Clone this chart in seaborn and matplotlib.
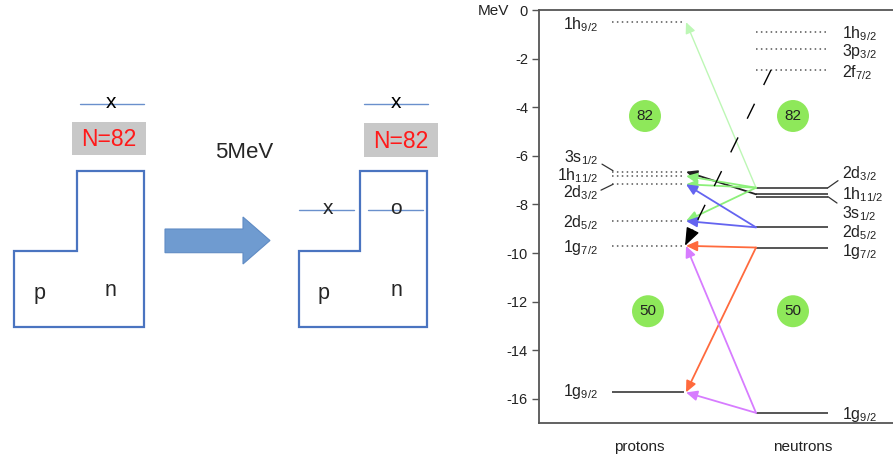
import numpy as np
import pandas as pd
import matplotlib
matplotlib.use("Agg")
import matplotlib.pyplot as plt
from matplotlib.patches import Polygon, Rectangle
import seaborn as sns

# ---------------- data ----------------
proton_levels = ["1h_{9/2}", "3s_{1/2}", "1h_{11/2}", "2d_{3/2}", "2d_{5/2}", "1g_{7/2}", "1g_{9/2}"]
proton_energy = [-0.50, -6.65, -6.83, -7.17, -8.68, -9.70, -15.73]
proton_occupied = [False, False, False, False, False, False, True]

neutron_levels = ["1h_{9/2}", "3p_{3/2}", "2f_{7/2}", "2d_{3/2}", "1h_{11/2}", "3s_{1/2}",
                  "2d_{5/2}", "1g_{7/2}", "1g_{9/2}"]
neutron_energy = [-0.90, -1.62, -2.47, -7.31, -7.58, -7.68, -8.94, -9.77, -16.57]
neutron_occupied = [False, False, False, True, True, True, True, True, True]

magic_labels = ["82", "82", "50", "50"]
magic_energy = [-4.36, -4.36, -12.39, -12.39]

# transitions: neutron level -> proton level
trans_from = ["2d_{3/2}", "1h_{11/2}", "2d_{3/2}", "2d_{3/2}", "2d_{3/2}", "2d_{5/2}", "2d_{5/2}",
              "1g_{7/2}", "1g_{7/2}", "1g_{9/2}", "1g_{9/2}"]
trans_to = ["1h_{9/2}", "3s_{1/2}", "1h_{11/2}", "2d_{3/2}", "2d_{5/2}", "2d_{3/2}", "2d_{5/2}",
            "1g_{7/2}", "1g_{9/2}", "1g_{7/2}", "1g_{9/2}"]
trans_color = ["#bdf7b5", "#222222", "#8cf07a", "#8cf07a", "#8cf07a", "#6464f0", "#6464f0",
               "#ff6a3d", "#ff6a3d", "#d77cff", "#d77cff"]
dashed_from = "2f_{7/2}"
dashed_to = "1g_{7/2}"

yticks = [0, -2, -4, -6, -8, -10, -12, -14, -16]
column_names = ["protons", "neutrons"]

# ---------------- layout ----------------
W, H = 893, 458
P_X0, P_X1 = 612, 684      # proton level segment (pixel-like x units)
N_X0, N_X1 = 756, 828      # neutron level segment
proton_label_dy = [-0.12, 0.56, 0.02, -0.36, -0.05, -0.05, 0.05]
neutron_label_dy = [-0.07, -0.09, -0.10, 0.56, 0.0, -0.69, -0.20, -0.15, -0.05]
magic_x = [645, 793, 648, 793]

sns.set_theme(style="white", rc={"axes.unicode_minus": False})
plt.rcParams["font.family"] = ["Liberation Sans", "DejaVu Sans"]
plt.rcParams["mathtext.fontset"] = "custom"
plt.rcParams["mathtext.rm"] = "Liberation Sans"
plt.rcParams["mathtext.it"] = "Liberation Sans"
plt.rcParams["mathtext.default"] = "rm"

fig = plt.figure(figsize=(W / 100, H / 100), dpi=100)
fig.patch.set_facecolor("white")

# ---------------- left schematic ----------------
a0 = fig.add_axes([0, 0, 1, 1])
a0.set_xlim(0, W)
a0.set_ylim(H, 0)
a0.axis("off")

blue = "#4a74c0"
thin = "#6a90cc"
for xs in ([14, 77, 144], [299, 360, 427]):
    x0, xm, x1 = xs
    a0.add_patch(Polygon([(x0, 250.5), (xm, 250.5), (xm, 171), (x1, 171), (x1, 326.7), (x0, 326.7)],
                         closed=True, fill=False, edgecolor=blue, lw=1.6, joinstyle="miter"))

# top lines with x
for (xa, xb, xt) in [(80, 144, 111), (364, 428, 396)]:
    a0.plot([xa, xb], [103.5, 103.5], color=thin, lw=1.0)
    a0.text(xt, 102, "x", fontsize=15, ha="center", va="center", color="black")
# gray N=82 boxes
for (xa, xb, yt, yb, xt) in [(72, 146, 121.7, 155, 109), (364, 438, 122.7, 157.3, 401)]:
    a0.add_patch(Rectangle((xa, yt), xb - xa, yb - yt, facecolor="#c8c8c8", edgecolor="none"))
    a0.text(xt, (yt + yb) / 2 + 1, "N=82", fontsize=16.5, color="#ff1a1a", ha="center", va="center")
# lines in second diagram
a0.plot([299, 354], [210, 210], color=thin, lw=1.0)
a0.text(328, 208, "x", fontsize=15, ha="center", va="center")
a0.plot([368, 423], [210, 210], color=thin, lw=1.0)
a0.text(396, 208, "o", fontsize=15, ha="center", va="center")
for xt in (40, 324):
    a0.text(xt, 293, "p", fontsize=15.5, ha="center", va="center")
for xt in (111, 396):
    a0.text(xt, 291, "n", fontsize=15.5, ha="center", va="center")
a0.text(244, 153, "5MeV", fontsize=16, ha="center", va="center")
a0.add_patch(Polygon([(165, 229), (243, 229), (243, 217), (270, 240.5), (243, 264), (243, 252.7), (165, 252.7)],
                     closed=True, facecolor="#6f9bd0", edgecolor="#5f8bc4", lw=0.8))

# ---------------- right level scheme ----------------
ax = fig.add_axes([539 / W, 1 - 423.3 / H, (905 - 539) / W, (423.3 - 10) / H])
ax.patch.set_alpha(0)

# magic-number circles (drawn with seaborn)
mdf = pd.DataFrame({"x": magic_x, "E": magic_energy, "label": magic_labels})
sns.scatterplot(data=mdf, x="x", y="E", s=530, color="#8ee85a", edgecolor="none", ax=ax, legend=False, zorder=3)
for _, r in mdf.iterrows():
    ax.text(r["x"], r["E"], r["label"], ha="center", va="center", fontsize=11, color="#222222", zorder=4)

ax.set_xlim(539, 905)
ax.set_ylim(-17, 0)
ax.set_xlabel("")
ax.set_ylabel("")
for s in ["top", "bottom", "left"]:
    ax.spines[s].set_color("#555555")
    ax.spines[s].set_linewidth(1.3)
ax.spines["right"].set_visible(False)
ax.set_yticks(yticks)
ax.set_yticklabels([str(v) for v in yticks], fontsize=10.5, color="#222222")
ax.tick_params(axis="y", direction="out", length=5, width=1, color="#555555", pad=3, left=True)
ax.set_xticks([639, 803])
ax.set_xticklabels(column_names, fontsize=11, color="#222222")
ax.tick_params(axis="x", length=0, pad=12)
fig.text(509 / W, 1 - 11 / H, "MeV", ha="right", va="center", fontsize=11, color="#222222")

dot_dash = (0, (1.0, 2.2))
pE = dict(zip(proton_levels, proton_energy))
nE = dict(zip(neutron_levels, neutron_energy))

for name, e, occ, dy in zip(proton_levels, proton_energy, proton_occupied, proton_label_dy):
    if occ:
        ax.plot([P_X0, P_X1], [e, e], color="#555555", lw=1.4, solid_capstyle="butt")
    else:
        ax.plot([P_X0, P_X1], [e, e], color="#555555", lw=1.1, linestyle=dot_dash)
    ax.text(598, e + dy, "$" + name + "$", ha="right", va="center", fontsize=11.5, color="#222222")
for name, e, occ, dy in zip(neutron_levels, neutron_energy, neutron_occupied, neutron_label_dy):
    if occ:
        ax.plot([N_X0, N_X1], [e, e], color="#555555", lw=1.4, solid_capstyle="butt")
    else:
        ax.plot([N_X0, N_X1], [e, e], color="#555555", lw=1.1, linestyle=dot_dash)
    ax.text(842, e + dy, "$" + name + "$", ha="left", va="center", fontsize=11.5, color="#222222")

# leader lines to labels
ax.plot([602, 613], [pE["3s_{1/2}"] + 0.31, pE["3s_{1/2}"] + 0.04], color="#333333", lw=0.9)
ax.plot([601, 613], [pE["2d_{3/2}"] - 0.24, pE["2d_{3/2}"]], color="#333333", lw=0.9)
ax.plot([828, 838], [nE["2d_{3/2}"], nE["2d_{3/2}"] + 0.29], color="#333333", lw=0.9)
ax.plot([828, 837], [nE["3s_{1/2}"], nE["3s_{1/2}"] - 0.26], color="#333333", lw=0.9)

# transitions
for f, t, c in zip(trans_from, trans_to, trans_color):
    lw = 1.0 if c == "#bdf7b5" else 1.3
    ax.annotate("", xy=(P_X1 + 2, pE[t]), xytext=(N_X0, nE[f]),
                arrowprops=dict(arrowstyle="-|>,head_length=0.55,head_width=0.25", color=c, lw=lw,
                                shrinkA=0, shrinkB=0, mutation_scale=12), zorder=5)

# long dashed black arrow
x_tail, y_tail = 771, nE[dashed_from]
x_tip, y_tip = P_X1 + 1, pE[dashed_to]
frac = 0.09
x_hs, y_hs = x_tip + (x_tail - x_tip) * frac, y_tip + (y_tail - y_tip) * frac
ax.plot([x_tail, x_hs], [y_tail, y_hs], color="black", lw=1.0, dashes=(12, 15), zorder=5)
ax.annotate("", xy=(x_tip, y_tip), xytext=(x_hs, y_hs),
            arrowprops=dict(arrowstyle="-|>,head_length=1.0,head_width=0.38", color="black", lw=1.0,
                            shrinkA=0, shrinkB=0, mutation_scale=11), zorder=6)

fig.savefig("out.png", dpi=100, facecolor="white")
